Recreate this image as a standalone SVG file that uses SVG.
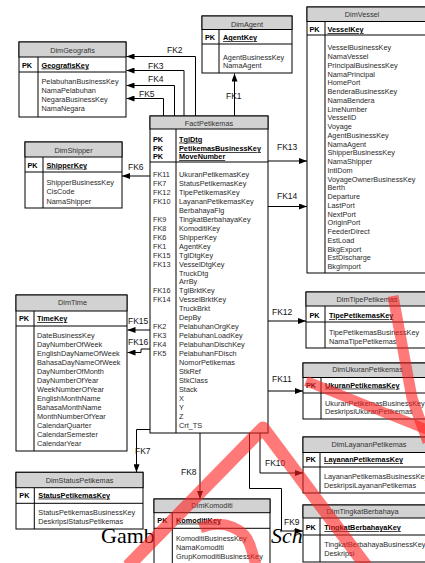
<svg xmlns="http://www.w3.org/2000/svg" width="425" height="563" viewBox="0 0 425 563">
<style>
.bx{fill:#fff;stroke:#000;stroke-width:1}
.hd{fill:#d2d2d2;stroke:#000;stroke-width:1}
.ln{stroke:#000;stroke-width:1;fill:none}
.t{font-family:"Liberation Sans",Arial,sans-serif;font-size:7.3px;fill:#2a2a2a}
.ttl{text-anchor:middle;fill:#333}
.pk{font-weight:bold;fill:#000}
.key{font-weight:bold;fill:#000;text-decoration:underline}
.lb{font-family:"Liberation Sans",Arial,sans-serif;font-size:8.5px;fill:#111}
.cap{font-family:"Liberation Serif","Times New Roman",serif;font-size:22px;fill:#000}
.wm{fill:none;stroke:#ff2020;stroke-opacity:0.6;stroke-linecap:butt;stroke-linejoin:round}
</style>
<defs>
<marker id="ah" viewBox="0 0 8 6" refX="8" refY="3" markerWidth="8" markerHeight="6" orient="auto" markerUnits="userSpaceOnUse"><path d="M0,0 L8,3 L0,6 z" fill="#000"/></marker>
<clipPath id="ctime"><rect x="16" y="295" width="111" height="156"/></clipPath>
</defs>
<rect width="425" height="563" fill="#fff"/>

<text class="cap" x="101" y="543">Gambar</text>
<text class="cap" x="271" y="543" font-style="italic">Schema</text>

<g id="connectors">
<path class="ln" d="M234.5,116 V73.5" marker-end="url(#ah)"/>
<path class="ln" d="M195.5,116 V56.5 H126.5" marker-end="url(#ah)"/>
<path class="ln" d="M184,116 V70.5 H126.5" marker-end="url(#ah)"/>
<path class="ln" d="M174.5,116 V85.5 H126.5" marker-end="url(#ah)"/>
<path class="ln" d="M163.5,116 V98.5 H126.5" marker-end="url(#ah)"/>
<path class="ln" d="M150,176 H122" marker-end="url(#ah)"/>
<path class="ln" d="M268,161 H307" marker-end="url(#ah)"/>
<path class="ln" d="M268,206.5 H307" marker-end="url(#ah)"/>
<path class="ln" d="M268,321 H306" marker-end="url(#ah)"/>
<path class="ln" d="M268,391 H303" marker-end="url(#ah)"/>
<path class="ln" d="M150,330 H127.5" marker-end="url(#ah)"/>
<path class="ln" d="M150,349 H141 V352.5 H127.5" marker-end="url(#ah)"/>
<path class="ln" d="M150,429.5 H136.5 V472.3" marker-end="url(#ah)"/>
<path class="ln" d="M200,433 V499" marker-end="url(#ah)"/>
<path class="ln" d="M260,433 V473 H303" marker-end="url(#ah)"/>
<path class="ln" d="M249.5,433 V488.5 H281.5 V531 H303" marker-end="url(#ah)"/>
<text class="lb" x="226" y="99">FK1</text>
<text class="lb" x="167" y="53">FK2</text>
<text class="lb" x="148" y="69">FK3</text>
<text class="lb" x="148" y="82">FK4</text>
<text class="lb" x="139" y="97">FK5</text>
<text class="lb" x="128" y="170">FK6</text>
<text class="lb" x="277" y="150">FK13</text>
<text class="lb" x="277" y="199">FK14</text>
<text class="lb" x="272" y="315">FK12</text>
<text class="lb" x="272" y="382">FK11</text>
<text class="lb" x="128" y="324">FK15</text>
<text class="lb" x="128" y="344.5">FK16</text>
<text class="lb" x="135" y="454">FK7</text>
<text class="lb" x="181" y="475">FK8</text>
<text class="lb" x="265" y="466">FK10</text>
<text class="lb" x="284" y="524.5">FK9</text>
</g>

<g id="DimGeografis">
<rect class="bx" x="19" y="42" width="107" height="75"/>
<rect class="hd" x="19" y="42" width="107" height="15"/>
<path class="ln" d="M19,72 H126 M38,57 V117"/>
<text class="t ttl" x="72.5" y="52.6">DimGeografis</text>
<text class="t pk" x="22" y="67.5">PK</text>
<text class="t key" x="41.5" y="67.5">GeografisKey</text>
<text class="t" x="41.5" y="84.3">PelabuhanBusinessKey<tspan x="41.5" y="93.3">NamaPelabuhan</tspan><tspan x="41.5" y="101.9">NegaraBusinessKey</tspan><tspan x="41.5" y="110.9">NamaNegara</tspan></text>
</g>

<g id="DimAgent">
<rect class="bx" x="202" y="16" width="90" height="57"/>
<rect class="hd" x="202" y="16" width="90" height="13.5"/>
<path class="ln" d="M202,44 H292 M219,29.5 V73"/>
<text class="t ttl" x="247" y="26.6">DimAgent</text>
<text class="t pk" x="205" y="40">PK</text>
<text class="t key" x="223" y="40">AgentKey</text>
<text class="t" x="223" y="60">AgentBusinessKey<tspan x="223" y="68.3">NamaAgent</tspan></text>
</g>

<g id="DimVessel">
<rect class="bx" x="307" y="7" width="125" height="266"/>
<rect class="hd" x="307" y="7" width="125" height="14.5"/>
<path class="ln" d="M307,35 H432 M325,21.5 V273"/>
<text class="t ttl" x="362" y="16.6">DimVessel</text>
<text class="t pk" x="309.5" y="32">PK</text>
<text class="t key" x="327.5" y="32">VesselKey</text>
<text class="t" x="327.5" y="50.3">VesselBusinessKey<tspan x="327.5" y="59.1">NamaVessel</tspan><tspan x="327.5" y="67.8">PrincipalBusinessKey</tspan><tspan x="327.5" y="76.6">NamaPrincipal</tspan><tspan x="327.5" y="85.3">HomePort</tspan><tspan x="327.5" y="94.1">BenderaBusinessKey</tspan><tspan x="327.5" y="102.8">NamaBendera</tspan><tspan x="327.5" y="111.6">LineNumber</tspan><tspan x="327.5" y="120.3">VesselID</tspan><tspan x="327.5" y="129.1">Voyage</tspan><tspan x="327.5" y="137.8">AgentBusinessKey</tspan><tspan x="327.5" y="146.6">NamaAgent</tspan><tspan x="327.5" y="155.3">ShipperBusinessKey</tspan><tspan x="327.5" y="164.1">NamaShipper</tspan><tspan x="327.5" y="172.8">IntlDom</tspan><tspan x="327.5" y="181.6">VoyageOwnerBusinessKey</tspan><tspan x="327.5" y="190.3">Berth</tspan><tspan x="327.5" y="199.1">Departure</tspan><tspan x="327.5" y="207.8">LastPort</tspan><tspan x="327.5" y="216.6">NextPort</tspan><tspan x="327.5" y="225.3">OriginPort</tspan><tspan x="327.5" y="234.1">FeederDirect</tspan><tspan x="327.5" y="242.8">EstLoad</tspan><tspan x="327.5" y="251.6">BkgExport</tspan><tspan x="327.5" y="260.3">EstDischarge</tspan><tspan x="327.5" y="269.1">BkgImport</tspan></text>
</g>

<g id="DimShipper">
<rect class="bx" x="25" y="142" width="97" height="66"/>
<rect class="hd" x="25" y="142" width="97" height="15"/>
<path class="ln" d="M25,172 H122 M43,157 V208"/>
<text class="t ttl" x="73.5" y="152.6">DimShipper</text>
<text class="t pk" x="27.5" y="167.6">PK</text>
<text class="t key" x="46.5" y="167.6">ShipperKey</text>
<text class="t" x="46.5" y="185.3">ShipperBusinessKey<tspan x="46.5" y="194.3">CisCode</tspan><tspan x="46.5" y="203.6">NamaShipper</tspan></text>
</g>

<g id="FactPetikemas">
<rect class="bx" x="150" y="116" width="118" height="317"/>
<rect class="hd" x="150" y="116" width="118" height="13"/>
<path class="ln" d="M150,162 H268 M176,129 V433"/>
<text class="t ttl" x="209" y="126">FactPetikemas</text>
<text class="t pk" x="153" y="141.6">PK<tspan x="153" y="151">PK</tspan><tspan x="153" y="159.3">PK</tspan></text>
<text class="t key" x="179" y="141.6">TglDtg<tspan x="179" y="151">PetikemasBusinessKey</tspan><tspan x="179" y="159.3">MoveNumber</tspan></text>
<text class="t" x="153" y="177">FK11<tspan x="153" y="186">FK7</tspan><tspan x="153" y="194.9">FK12</tspan><tspan x="153" y="203.9">FK10</tspan><tspan x="153" y="221.8">FK9</tspan><tspan x="153" y="230.7">FK8</tspan><tspan x="153" y="239.7">FK6</tspan><tspan x="153" y="248.6">FK1</tspan><tspan x="153" y="257.6">FK15</tspan><tspan x="153" y="266.5">FK13</tspan><tspan x="153" y="293.4">FK16</tspan><tspan x="153" y="302.3">FK14</tspan><tspan x="153" y="329.2">FK2</tspan><tspan x="153" y="338.1">FK3</tspan><tspan x="153" y="347.1">FK4</tspan><tspan x="153" y="356">FK5</tspan></text>
<text class="t" x="179" y="177">UkuranPetikemasKey<tspan x="179" y="186">StatusPetikemasKey</tspan><tspan x="179" y="194.9">TipePetikemasKey</tspan><tspan x="179" y="203.9">LayananPetikemasKey</tspan><tspan x="179" y="212.8">BerbahayaFlg</tspan><tspan x="179" y="221.8">TingkatBerbahayaKey</tspan><tspan x="179" y="230.7">KomoditiKey</tspan><tspan x="179" y="239.7">ShipperKey</tspan><tspan x="179" y="248.6">AgentKey</tspan><tspan x="179" y="257.6">TglDtgKey</tspan><tspan x="179" y="266.5">VesselDtgKey</tspan><tspan x="179" y="275.5">TruckDtg</tspan><tspan x="179" y="284.4">ArrBy</tspan><tspan x="179" y="293.4">TglBrktKey</tspan><tspan x="179" y="302.3">VesselBrktKey</tspan><tspan x="179" y="311.3">TruckBrkt</tspan><tspan x="179" y="320.2">DepBy</tspan><tspan x="179" y="329.2">PelabuhanOrgKey</tspan><tspan x="179" y="338.1">PelabuhanLoadKey</tspan><tspan x="179" y="347.1">PelabuhanDischKey</tspan><tspan x="179" y="356">PelabuhanFDisch</tspan><tspan x="179" y="365">NomorPetikemas</tspan><tspan x="179" y="373.9">StkRef</tspan><tspan x="179" y="382.9">StkClass</tspan><tspan x="179" y="391.8">Stack</tspan><tspan x="179" y="400.8">X</tspan><tspan x="179" y="409.7">Y</tspan><tspan x="179" y="418.7">Z</tspan><tspan x="179" y="427.6">Crt_TS</tspan></text>
</g>

<g id="DimTime">
<rect class="bx" x="16" y="295" width="111" height="156"/>
<rect class="hd" x="16" y="295" width="111" height="16"/>
<path class="ln" d="M16,326 H127 M34,311 V451"/>
<text class="t ttl" x="72.5" y="305">DimTime</text>
<text class="t pk" x="19" y="321">PK</text>
<text class="t key" x="37" y="321">TimeKey</text>
<text class="t" clip-path="url(#ctime)" x="37" y="337.6">DateBusinessKey<tspan x="37" y="346.6">DayNumberOfWeek</tspan><tspan x="37" y="355.6">EnglishDayNameOfWeek</tspan><tspan x="37" y="364.6">BahasaDayNameOfWeek</tspan><tspan x="37" y="373.6">DayNumberOfMonth</tspan><tspan x="37" y="382.6">DayNumberOfYear</tspan><tspan x="37" y="391.6">WeekNumberOfYear</tspan><tspan x="37" y="400.6">EnglishMonthName</tspan><tspan x="37" y="409.6">BahasaMonthName</tspan><tspan x="37" y="418.6">MonthNumberOfYear</tspan><tspan x="37" y="427.6">CalendarQuarter</tspan><tspan x="37" y="436.6">CalendarSemester</tspan><tspan x="37" y="445.6">CalendarYear</tspan></text>
</g>

<g id="DimTipePetikemas">
<rect class="bx" x="306" y="292" width="126" height="56"/>
<rect class="hd" x="306" y="292" width="126" height="14"/>
<path class="ln" d="M306,322 H432 M325,306 V348"/>
<text class="t ttl" x="367" y="302">DimTipePetikemas</text>
<text class="t pk" x="309.5" y="318.3">PK</text>
<text class="t key" x="329" y="318.3">TipePetikemasKey</text>
<text class="t" x="329" y="335.3">TipePetikemasBusinessKey<tspan x="329" y="343.6">NamaTipePetikemas</tspan></text>
</g>

<g id="DimUkuranPetikemas">
<rect class="bx" x="303" y="363" width="129" height="56"/>
<rect class="hd" x="303" y="363" width="129" height="14.5"/>
<path class="ln" d="M303,393 H432 M321,377.5 V419"/>
<text class="t ttl" x="367.5" y="372">DimUkuranPetikemas</text>
<text class="t pk" x="306" y="387.6">PK</text>
<text class="t key" x="325" y="387.6">UkuranPetikemasKey</text>
<text class="t" x="325" y="406">UkuranPetikemasBusinessKey<tspan x="325" y="414.3">DeskripsiUkuranPetikemas</tspan></text>
</g>

<g id="DimLayananPetikemas">
<rect class="bx" x="303" y="437" width="129" height="56"/>
<rect class="hd" x="303" y="437" width="129" height="15.5"/>
<path class="ln" d="M303,467 H432 M320,452.5 V493"/>
<text class="t ttl" x="369" y="446.6">DimLayananPetikemas</text>
<text class="t pk" x="305.7" y="462">PK</text>
<text class="t key" x="324" y="462">LayananPetikemasKey</text>
<text class="t" x="324" y="479">LayananPetikemasBusinessKey<tspan x="324" y="488.4">DeskripsiLayananPetikemas</tspan></text>
</g>

<g id="DimTingkatBerbahaya">
<rect class="bx" x="303" y="505" width="129" height="57"/>
<rect class="hd" x="303" y="505" width="129" height="13"/>
<path class="ln" d="M303,535 H432 M320,518 V562"/>
<text class="t ttl" x="362.5" y="513.6">DimTingkatBerbahaya</text>
<text class="t pk" x="305.7" y="530">PK</text>
<text class="t key" x="324.3" y="530">TingkatBerbahayaKey</text>
<text class="t" x="324.3" y="546.6">TingkatBerbahayaBusinessKey<tspan x="324.3" y="556">Deskripsi</tspan></text>
</g>

<g id="DimStatusPetikemas">
<rect class="bx" x="16" y="472.3" width="127" height="56.7"/>
<rect class="hd" x="16" y="472.3" width="127" height="15.4"/>
<path class="ln" d="M16,503.3 H143 M34.3,487.7 V529"/>
<text class="t ttl" x="79.5" y="482.6">DimStatusPetikemas</text>
<text class="t pk" x="19.3" y="497.6">PK</text>
<text class="t key" x="38.3" y="497.6">StatusPetikemasKey</text>
<text class="t" x="38.3" y="515">StatusPetikemasBusinessKey<tspan x="38.3" y="524.3">DeskripsiStatusPetikemas</tspan></text>
</g>

<g id="DimKomoditi">
<rect class="bx" x="154" y="499" width="116" height="80"/>
<rect class="hd" x="154" y="499" width="116" height="13.7"/>
<path class="ln" d="M154,528.3 H270 M172.3,512.7 V579"/>
<text class="t ttl" x="212" y="507.6">DimKomoditi</text>
<text class="t pk" x="157.3" y="522.6">PK</text>
<text class="t key" x="176" y="522.6">KomoditiKey</text>
<text class="t" x="176" y="541">KomoditiBusinessKey<tspan x="176" y="550.3">NamaKomoditi</tspan><tspan x="176" y="559.3">GrupKomoditiBusinessKey</tspan></text>
</g>

<g id="watermark">
<path class="wm" stroke-width="11" d="M393,296 L412,398 L428,442"/>
<path class="wm" stroke-width="10" d="M306,381 L428,430"/>
<path class="wm" stroke-width="13" d="M128,566 L263,428 L366,566"/>
<path class="wm" stroke-width="11" d="M200,528 C225,518 245,530 250,545 C253,555 255,560 256,566"/>
</g>
</svg>
